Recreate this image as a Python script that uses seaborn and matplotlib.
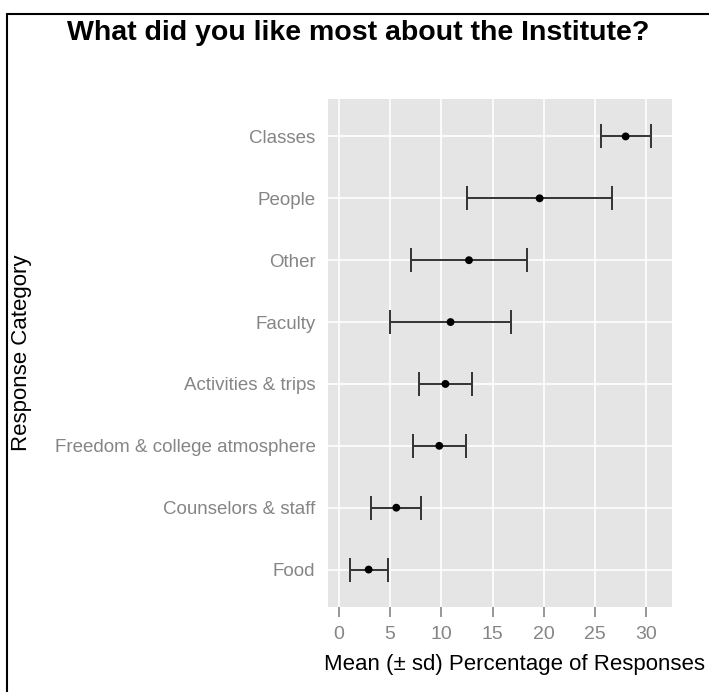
import matplotlib
matplotlib.use("Agg")
import matplotlib.pyplot as plt
from matplotlib.lines import Line2D
import pandas as pd
import seaborn as sns

# Response categories, bottom to top
categories = [
    "Food",
    "Counselors & staff",
    "Freedom & college atmosphere",
    "Activities & trips",
    "Faculty",
    "Other",
    "People",
    "Classes",
]
mean_pct = [2.9, 5.6, 9.8, 10.4, 10.9, 12.7, 19.6, 28.0]
sd_pct = [1.85, 2.45, 2.6, 2.6, 5.9, 5.7, 7.1, 2.45]
x_ticks = [0, 5, 10, 15, 20, 25, 30]

df = pd.DataFrame({"category": categories, "mean": mean_pct, "sd": sd_pct})

sns.set_theme(style="darkgrid", rc={
    "axes.facecolor": "#E5E5E5",
    "grid.color": "white",
    "grid.linewidth": 1.2,
    "axes.edgecolor": "none",
})
plt.rcParams["font.family"] = ["Liberation Sans", "DejaVu Sans"]

fig = plt.figure(figsize=(7.09, 6.92), dpi=100)
ax = fig.add_axes([328 / 709, 1 - 606.7 / 692, 343.7 / 709, 507.4 / 692])

ax.errorbar(df["mean"], df["category"], xerr=df["sd"], fmt="none",
            ecolor="#333333", elinewidth=1.4, capsize=8.3, capthick=1.4,
            zorder=3)
sns.scatterplot(data=df, x="mean", y="category", ax=ax, color="black",
                s=32, edgecolor="none", zorder=4)

ax.set_xlim(-1.07, 32.5)
ax.set_ylim(-0.6, len(categories) - 0.4)
ax.set_xticks(x_ticks)
ax.set_xticklabels([str(t) for t in x_ticks])

ax.tick_params(axis="x", which="major", length=7, width=1.2, color="#858585",
               labelcolor="#858585", labelsize=14, pad=7, bottom=True)
ax.tick_params(axis="y", which="major", length=0, labelcolor="#858585",
               labelsize=13.5, pad=9)
ax.grid(True, color="white", linewidth=1.2)
for s in ax.spines.values():
    s.set_visible(False)

ax.set_xlabel("Mean (± sd) Percentage of Responses", fontsize=16, color="black")
ax.xaxis.set_label_coords((514 - 328) / 343.7, -(654 - 606.7) / 507.4)
ax.set_ylabel("Response Category", fontsize=16, color="black")
ax.yaxis.set_label_coords(-(328 - 32) / 343.7, 0.5)

fig.text(358 / 709, 1 - 33 / 692, "What did you like most about the Institute?",
         ha="center", va="center", fontsize=20.5, fontweight="bold", color="black")

# Outer frame along the top and left edges
fig.add_artist(Line2D([6.5 / 709, 6.5 / 709], [0, 1 - 14 / 692],
                      transform=fig.transFigure, color="black", linewidth=1.5))
fig.add_artist(Line2D([6.5 / 709, 1], [1 - 14 / 692, 1 - 14 / 692],
                      transform=fig.transFigure, color="black", linewidth=1.5))

fig.savefig("out.png", dpi=100)
